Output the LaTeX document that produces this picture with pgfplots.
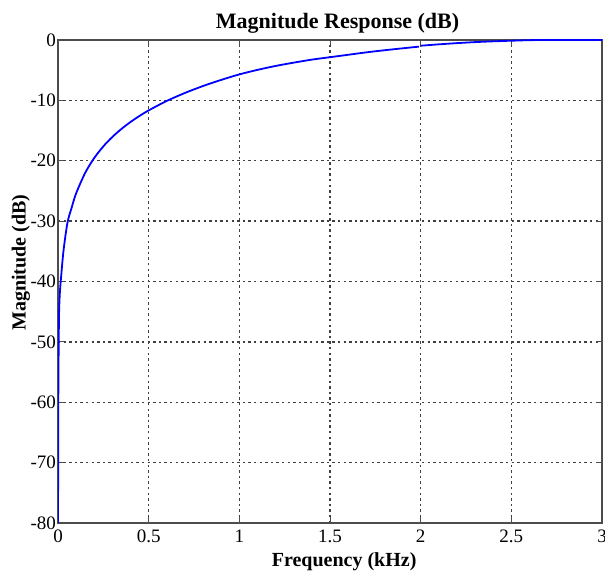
\documentclass[border=0pt]{standalone}
\usepackage{pgfplots}
\pgfplotsset{compat=1.18}
\usepackage{fontspec}
\setmainfont{Liberation Serif}
\begin{document}
\begin{tikzpicture}
\begin{axis}[
  scale only axis,
  width=272pt, height=241.5pt,
  xmin=0, xmax=3, ymin=-80, ymax=0,
  xtick={0,0.5,1,1.5,2,2.5,3},
  ytick={-80,-70,-60,-50,-40,-30,-20,-10,0},
  xticklabels={0,0.5,1,1.5,2,2.5,3},
  yticklabels={-80,-70,-60,-50,-40,-30,-20,-10,0},
  /pgf/number format/assume math mode=true,
  tick label style={font=\fontsize{9.5}{11}\selectfont},
  xticklabel style={anchor=base, yshift=-10pt},
  yticklabel style={anchor=east, inner sep=0.8pt},
  xlabel={Frequency (kHz)},
  ylabel={Magnitude (dB)},
  xlabel style={font=\fontsize{10}{12}\selectfont\bfseries, at={(axis description cs:0.526,-0.0911)}, anchor=base, inner sep=0pt},
  ylabel style={font=\fontsize{10}{12}\selectfont\bfseries, at={(axis description cs:-0.0597,0.539)}, anchor=base, rotate=0, inner sep=0pt},
  axis line style={draw=black!70, line width=0.9pt},
  tick align=inside,
  tick style={draw=black!70, line width=0.5pt},
  major tick length=3pt,
  grid=major,
  major grid style={draw=black!75, line width=0.7pt, dash pattern=on 1.2pt off 1.6pt},
]
\addplot[color=blue, line width=0.9pt, smooth] coordinates {
(0,-80) (0.001,-70) (0.002,-58) (0.004,-50) (0.006,-45) (0.01,-42) (0.015,-40)
(0.03,-35) (0.052,-30.3) (0.075,-27.8) (0.1,-25.4) (0.15,-22.0) (0.2,-19.54)
(0.25,-17.62) (0.3,-16.05) (0.35,-14.73) (0.4,-13.58) (0.45,-12.57) (0.5,-11.66)
(0.6,-10.09) (0.7,-8.77) (0.8,-7.62) (0.9,-6.61) (1.0,-5.7) (1.1,-4.95)
(1.2,-4.3) (1.3,-3.75) (1.4,-3.25) (1.5,-2.85) (1.6,-2.45) (1.7,-2.05)
(1.8,-1.7) (1.9,-1.38) (1.99,-1.1)};
\addplot[color=blue, line width=0.9pt, smooth] coordinates {
(2.0,-0.95) (2.1,-0.72) (2.2,-0.52) (2.3,-0.35) (2.4,-0.22) (2.5,-0.12) (2.6,-0.03) (2.7,0) (3,0)};
\end{axis}
\node[anchor=base, inner sep=0pt, font=\fontsize{11}{13}\selectfont\bfseries]
  at ([xshift=3.8pt, yshift=5.85pt]current axis.north) {Magnitude Response (dB)};
\pgfresetboundingbox
\path[use as bounding box] (current axis.south west) ++(-29pt,-25.5pt) rectangle ([xshift=1.5pt,yshift=20pt]current axis.north east);
\end{tikzpicture}
\end{document}
